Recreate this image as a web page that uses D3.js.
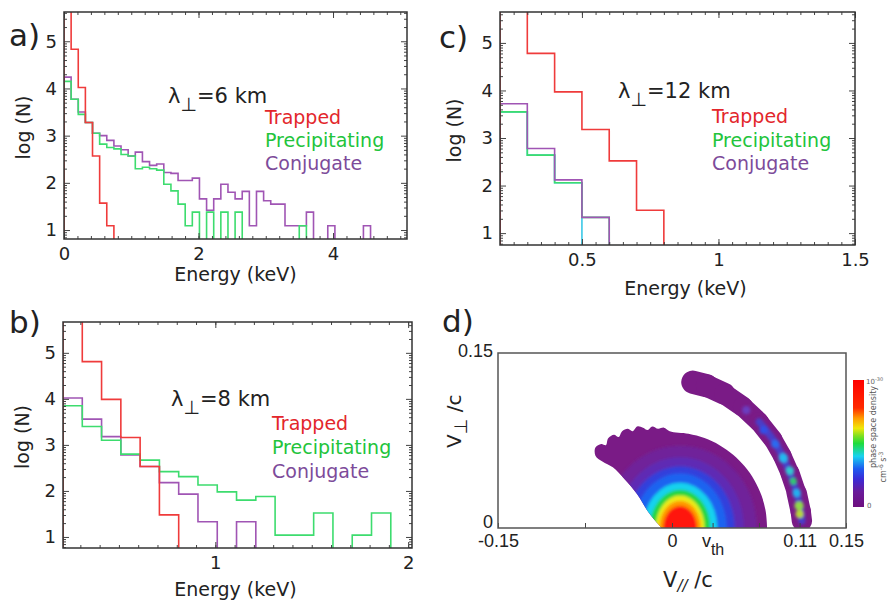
<!DOCTYPE html>
<html lang="en">
<head>
<meta charset="UTF-8">
<title>Energy spectra and phase space density</title>
<script src="https://d3js.org/d3.v7.min.js"></script>
<style>
  body { margin: 0; background: #fff; }
  svg { font-family: "DejaVu Sans", sans-serif; }
</style>
</head>
<body>
<script>
// ---------- data (log N per energy bin) ----------
// panel a, lambda_perp = 6 km : bins of 0.106 keV from 0
const startA = 0, binA = 0.106;
const trappedA = [5.8, 4.83, 4.02, 3.28, 2.57, 1.57, 1.09];
const precipA  = [4.15, 3.77, 3.45, 3.28, 3.05, 2.82, 2.75, 2.72, 2.6, 2.57, 2.3, 2.33, 2.3, 2.27,
                  1.97, 1.83, 1.55, 1.09, 1.38, 0, 1.38, 0, 1.38, 0, 1.38, 0, 0, 0, 0, 0, 0, 0, 0, 1.09, 0];
const conjA    = [4.24, 3.77, 3.5, 3.28, 3.05, 3.0, 2.9, 2.78, 2.7, 2.57, 2.65, 2.45, 2.37, 2.4, 2.22,
                  2.2, 2.05, 2.05, 2.1, 1.66, 1.42, 1.66, 1.97, 1.8, 1.66, 1.82, 1.09, 1.82, 1.62, 1.55,
                  1.55, 1.09, 1.09, 1.09, 1.38, 0, 0, 1.09, 0, 0, 0, 0, 1.09, 0];

// panel b, lambda_perp = 8 km : bins of 0.1 keV from 0.21
const startB = 0.21, binB = 0.1;
const trappedB = [5.8, 4.81, 3.99, 3.16, 2.53, 1.48];
const precipB  = [3.85, 3.4, 3.1, 2.8, 2.67, 2.42, 2.31, 2.13, 1.98, 1.8, 1.88, 1.04, 1.04, 1.52, 0, 1.04, 1.52, 0];
const conjB    = [4.02, 3.56, 3.18, 2.78, 2.53, 2.18, 1.93, 1.33, 0, 1.33, 0];

// panel c, lambda_perp = 12 km : bins of 0.1 keV from 0.2
const startC = 0.2, binC = 0.1;
const trappedC = [5.8, 4.78, 3.97, 3.18, 2.52, 1.48];
const cyanC    = [3.55, 2.64, 2.06, 0];
const precipC  = [3.55, 2.64, 2.06, 1.33, 0];
const conjC    = [3.72, 2.78, 2.12, 1.33, 0];

const legendNames = ["Trapped", "Precipitating", "Conjugate"];
const lambdaLabels = ["=6 km", "=8 km", "=12 km"];

// panel d: phase space density in (v_par/c, v_perp/c)
const vth = 0.035;
const dTickValues = [-0.15, -0.075, 0, vth, 0.075, 0.11, 0.15];
const dTickLabels = ["-0.15", "", "0", "vth", "", "0.11", "0.15"];
const blobOutline = [
  [-0.009, 0], [-0.020, 0.013], [-0.030, 0.029], [-0.041, 0.042], [-0.051, 0.052], [-0.060, 0.057],
  [-0.066, 0.062], [-0.066, 0.069], [-0.061, 0.072], [-0.057, 0.071], [-0.055, 0.077], [-0.050, 0.080],
  [-0.046, 0.078], [-0.043, 0.083], [-0.038, 0.085], [-0.034, 0.083], [-0.030, 0.087], [-0.025, 0.086],
  [-0.021, 0.084], [-0.017, 0.087], [-0.012, 0.085], [-0.007, 0.086], [-0.002, 0.083], [0.0142, 0.0808],
  [0.028, 0.0771], [0.041, 0.071], [0.0527, 0.0628], [0.0628, 0.0527], [0.071, 0.041], [0.0771, 0.028],
  [0.0808, 0.0142], [0.082, 0]
];
const coreCenter = [0.007, 0];
const coreRings = [   // rx, ry in v/c, colour
  [0.066, 0.071, "#70229a"], [0.055, 0.061, "#5f2cb4"], [0.047, 0.053, "#3340dc"],
  [0.040, 0.047, "#1e64f0"], [0.032, 0.039, "#14d2ee"], [0.026, 0.033, "#24d640"],
  [0.021, 0.028, "#ecec14"], [0.018, 0.0235, "#ff9800"], [0.0145, 0.019, "#ff1208"]
];
const bandLine = [[0.018, 0.125], [0.030, 0.122], [0.045, 0.115], [0.061, 0.104], [0.075, 0.091],
  [0.087, 0.076], [0.095, 0.062], [0.1017, 0.047], [0.1075, 0.030], [0.111, 0.014], [0.112, 0.006]];
const bandWidth = [0.02, 0.02, 0.018, 0.017, 0.017, 0.016, 0.016, 0.016, 0.017, 0.018, 0.017];
const bandSpots = [
  [0.064, 0.101, "#6a3cc0", 0.0035], [0.079, 0.084, "#3050e8", 0.0035], [0.089, 0.072, "#2a6af0", 0.0035],
  [0.096, 0.060, "#22b8f0", 0.004], [0.1017, 0.049, "#30c8d0", 0.0035], [0.1046, 0.040, "#30c870", 0.003],
  [0.1075, 0.030, "#20b0f0", 0.0035], [0.1095, 0.019, "#90d848", 0.004], [0.110, 0.012, "#b8d838", 0.0035]
];
const cmapStops = [[0, "#6e0f7e"], [0.12, "#6a1b9a"], [0.22, "#3b2bd6"], [0.3, "#1f5af0"], [0.4, "#19d2f0"],
  [0.5, "#1edc3c"], [0.56, "#7ee020"], [0.62, "#f0e80a"], [0.7, "#ff9a00"], [0.78, "#ff2a00"], [1, "#ff0000"]];

// ---------- drawing ----------
const col = { trapped: "#ef3b3b", precip: "#3ddc6e", conj: "#a055b4", cyan: "#3cc8e6" };
const txtCol = ["#e3262b", "#22c43b", "#7d4b9a"];
const svg = d3.select("body").append("svg").attr("width", 896).attr("height", 604);
const defs = svg.append("defs");

function logMinor(dom) {
  const out = [];
  for (let n = 0; n <= 6; n++) for (let k = 2; k <= 9; k++) {
    const v = n + Math.log10(k);
    if (v > dom[0] && v < dom[1]) out.push(v);
  }
  return out;
}
function range(a, b, s) { const o = []; for (let v = a; v <= b + 1e-9; v += s) o.push(+v.toFixed(4)); return o; }

function histPanel(c) {
  const x = d3.scaleLinear().domain(c.xDom).range([c.left, c.right]);
  const y = d3.scaleLinear().domain(c.yDom).range([c.bottom, c.top]);
  const g = svg.append("g");
  defs.append("clipPath").attr("id", c.id).append("rect")
    .attr("x", c.left).attr("y", c.top).attr("width", c.right - c.left).attr("height", c.bottom - c.top);
  const plot = g.append("g").attr("clip-path", `url(#${c.id})`);
  const base = c.yDom[0] - 1;
  const line = d3.line().x(d => x(d[0])).y(d => y(d[1]));
  c.series.forEach(s => {
    const pts = [[c.start, base]];
    s.vals.forEach((v, i) => {
      const a = c.start + i * c.width, b = a + c.width, vv = v > 0 ? v : base;
      pts.push([a, vv], [b, vv]);
    });
    pts.push([c.start + s.vals.length * c.width, base]);
    plot.append("path").datum(pts).attr("d", line)
      .attr("fill", "none").attr("stroke", s.color).attr("stroke-width", 1.6);
  });

  const axes = [
    [d3.axisBottom(x).tickValues(c.xMajor).tickSize(-6).tickPadding(8).tickFormat(c.xFmt), `translate(0,${c.bottom})`],
    [d3.axisBottom(x).tickValues(c.xMinor).tickSize(-3).tickFormat(""), `translate(0,${c.bottom})`],
    [d3.axisTop(x).tickValues(c.xMajor).tickSize(-6).tickFormat(""), `translate(0,${c.top})`],
    [d3.axisTop(x).tickValues(c.xMinor).tickSize(-3).tickFormat(""), `translate(0,${c.top})`],
    [d3.axisLeft(y).tickValues([1, 2, 3, 4, 5]).tickSize(-6).tickPadding(7).tickFormat(d3.format("d")), `translate(${c.left},0)`],
    [d3.axisLeft(y).tickValues(logMinor(c.yDom)).tickSize(-3).tickFormat(""), `translate(${c.left},0)`],
    [d3.axisRight(y).tickValues([1, 2, 3, 4, 5]).tickSize(-6).tickFormat(""), `translate(${c.right},0)`],
    [d3.axisRight(y).tickValues(logMinor(c.yDom)).tickSize(-3).tickFormat(""), `translate(${c.right},0)`]
  ];
  axes.forEach(([ax, tr]) => {
    const a = g.append("g").attr("transform", tr).call(ax);
    a.select(".domain").remove();
    a.selectAll("line").attr("stroke", "#444").attr("stroke-width", 1);
    a.selectAll("text").attr("font-size", 18).attr("fill", "#222").attr("font-family", "DejaVu Sans");
  });
  g.append("rect").attr("x", c.left).attr("y", c.top)
    .attr("width", c.right - c.left).attr("height", c.bottom - c.top)
    .attr("fill", "none").attr("stroke", "#333").attr("stroke-width", 1.5);

  // labels
  g.append("text").attr("transform", `translate(${c.left - c.yTitleDx},${(c.top + c.bottom) / 2 + 2}) rotate(-90)`)
    .attr("text-anchor", "middle").attr("font-size", 19).attr("fill", "#222").text("log (N)");
  g.append("text").attr("x", (c.left + c.right) / 2 + c.titleDx).attr("y", c.bottom + c.titleDy)
    .attr("text-anchor", "middle").attr("font-size", 19).attr("fill", "#222").text("Energy (keV)");
  g.append("text").attr("x", c.tag[1]).attr("y", c.tag[2]).attr("font-size", 31).attr("fill", "#222").text(c.tag[0]);

  const lt = g.append("text").attr("x", c.lam[0]).attr("y", c.lam[1]).attr("font-size", 21).attr("fill", "#222");
  lt.append("tspan").text("λ");
  lt.append("tspan").attr("dy", 8).attr("font-size", 19).text("⊥");
  lt.append("tspan").attr("dy", -8).text(c.lamText);
  legendNames.forEach((n, i) => {
    g.append("text").attr("x", c.leg[0]).attr("y", c.leg[1] + c.leg[2] * i)
      .attr("font-size", 19).attr("fill", txtCol[i]).text(n);
  });
}

histPanel({
  id: "clipA", left: 64, right: 407, top: 12, bottom: 239, xDom: [0, 5.1], yDom: [0.81, 5.62],
  start: startA, width: binA,
  series: [{ vals: conjA, color: col.conj }, { vals: precipA, color: col.precip }, { vals: trappedA, color: col.trapped }],
  xMajor: [0, 2, 4], xMinor: range(0, 5, 0.2), xFmt: d3.format("d"), yTitleDx: 34,
  titleDx: 0, titleDy: 42, tag: ["a)", 9, 46], lam: [168, 103], lamText: lambdaLabels[0], leg: [265, 124, 23]
});
histPanel({
  id: "clipB", left: 63, right: 412, top: 322, bottom: 548, xDom: [0.21, 2.02], yDom: [0.76, 5.67],
  start: startB, width: binB,
  series: [{ vals: conjB, color: col.conj }, { vals: precipB, color: col.precip }, { vals: trappedB, color: col.trapped }],
  xMajor: [1, 2], xMinor: range(0.3, 2, 0.1), xFmt: d3.format("d"), yTitleDx: 34,
  titleDx: -2, titleDy: 48, tag: ["b)", 9, 333], lam: [171, 406], lamText: lambdaLabels[1], leg: [272, 430, 24]
});
histPanel({
  id: "clipC", left: 500, right: 855, top: 12, bottom: 245, xDom: [0.2, 1.5], yDom: [0.75, 5.65],
  start: startC, width: binC,
  series: [{ vals: cyanC, color: col.cyan }, { vals: precipC, color: col.precip }, { vals: conjC, color: col.conj },
           { vals: trappedC, color: col.trapped }],
  xMajor: [0.5, 1, 1.5], xMinor: range(0.25, 1.5, 0.05), xFmt: d => d === 1 ? "1" : d3.format(".1f")(d), yTitleDx: 39,
  titleDx: 8, titleDy: 50, tag: ["c)", 439, 48], lam: [618, 98], lamText: lambdaLabels[2], leg: [712, 123, 23.5]
});

// ---------- panel d ----------
(function () {
  const L = 498, R = 846, T = 353, B = 528;
  const x = d3.scaleLinear().domain([-0.15, 0.15]).range([L, R]);
  const y = d3.scaleLinear().domain([0, 0.15]).range([B, T]);
  const k = x(1) - x(0);
  const g = svg.append("g");

  defs.append("clipPath").attr("id", "clipD").append("rect").attr("x", L).attr("y", T).attr("width", R - L).attr("height", B - T);
  const blurF = defs.append("filter").attr("id", "soft").attr("x", "-20%").attr("y", "-20%").attr("width", "140%").attr("height", "140%");
  blurF.append("feGaussianBlur").attr("stdDeviation", 1.8);
  const blurS = defs.append("filter").attr("id", "softS").attr("x", "-50%").attr("y", "-50%").attr("width", "200%").attr("height", "200%");
  blurS.append("feGaussianBlur").attr("stdDeviation", 1.4);

  const outline = d3.line().x(d => x(d[0])).y(d => y(d[1])).curve(d3.curveCatmullRom)(blobOutline) + "Z";
  defs.append("clipPath").attr("id", "clipBlob").append("path").attr("d", outline);

  const plot = g.append("g").attr("clip-path", "url(#clipD)");
  plot.append("path").attr("d", outline).attr("fill", "#7a1b86");
  const core = plot.append("g").attr("clip-path", "url(#clipBlob)").append("g").attr("filter", "url(#soft)");
  coreRings.forEach(r => {
    core.append("ellipse").attr("cx", x(coreCenter[0])).attr("cy", y(coreCenter[1]))
      .attr("rx", r[0] * k).attr("ry", r[1] * k).attr("fill", r[2]);
  });

  // arc-shaped band
  const band = plot.append("g");
  for (let i = 0; i < bandLine.length - 1; i++) {
    band.append("line")
      .attr("x1", x(bandLine[i][0])).attr("y1", y(bandLine[i][1]))
      .attr("x2", x(bandLine[i + 1][0])).attr("y2", y(bandLine[i + 1][1]))
      .attr("stroke", "#7a1b86").attr("stroke-linecap", "round")
      .attr("stroke-width", (bandWidth[i] + bandWidth[i + 1]) / 2 * k);
  }
  const inner = plot.append("g").attr("filter", "url(#softS)");
  inner.append("path").datum(bandLine.slice(4))
    .attr("d", d3.line().x(d => x(d[0])).y(d => y(d[1])).curve(d3.curveCatmullRom))
    .attr("fill", "none").attr("stroke", "#4a3cc8").attr("stroke-width", 7).attr("stroke-linecap", "round");
  bandSpots.forEach(s => {
    inner.append("circle").attr("cx", x(s[0])).attr("cy", y(s[1])).attr("r", s[3] * k).attr("fill", s[2]);
  });

  // axes
  const ax = g.append("g").attr("transform", `translate(0,${B})`)
    .call(d3.axisBottom(x).tickValues(dTickValues).tickSize(-5).tickPadding(6).tickFormat((d, i) => dTickLabels[i]));
  ax.select(".domain").remove();
  ax.selectAll("line").attr("stroke", "#444");
  ax.selectAll("text").attr("font-size", 18).attr("fill", "#222");
  ax.selectAll(".tick text").filter(d => d === vth).each(function () {
    const t = d3.select(this).text("");
    t.append("tspan").text("v");
    t.append("tspan").attr("dy", 8).attr("font-size", 16).text("th");
  });
  const ay = g.append("g").attr("transform", `translate(${L},0)`)
    .call(d3.axisLeft(y).tickValues([0, 0.15]).tickSize(0).tickPadding(5).tickFormat(d => d === 0 ? "0" : "0.15"));
  ay.select(".domain").remove();
  ay.selectAll("text").attr("font-size", 18).attr("fill", "#222").attr("dy", d => d === 0 ? "-0.05em" : "0.2em");
  g.append("rect").attr("x", L).attr("y", T).attr("width", R - L).attr("height", B - T)
    .attr("fill", "none").attr("stroke", "#555").attr("stroke-width", 1.5);

  g.append("text").attr("x", 442).attr("y", 332).attr("font-size", 31).attr("fill", "#222").text("d)");
  const yl = g.append("text").attr("transform", `translate(461,448) rotate(-90)`).attr("font-size", 20).attr("fill", "#222");
  yl.append("tspan").text("V");
  yl.append("tspan").attr("dy", 6).attr("font-size", 18).text("⊥");
  yl.append("tspan").attr("dy", -6).text(" /c");
  const xl = g.append("text").attr("x", 663).attr("y", 587).attr("font-size", 21).attr("fill", "#222");
  xl.append("tspan").text("V");
  xl.append("tspan").attr("dy", 4).attr("font-size", 15).attr("font-style", "italic").text("//");
  xl.append("tspan").attr("dy", -4).text(" /c");

  // colour bar
  const grad = defs.append("linearGradient").attr("id", "cmap").attr("x1", 0).attr("y1", 1).attr("x2", 0).attr("y2", 0);
  cmapStops.forEach(s => grad.append("stop").attr("offset", s[0]).attr("stop-color", s[1]));
  svg.append("rect").attr("x", 853).attr("y", 380).attr("width", 11).attr("height", 127).attr("fill", "url(#cmap)");
  const top = svg.append("text").attr("x", 866).attr("y", 384).attr("font-size", 7).attr("fill", "#666");
  top.append("tspan").text("10");
  top.append("tspan").attr("dy", -3).attr("font-size", 5).text("-30");
  svg.append("text").attr("x", 867).attr("y", 508).attr("font-size", 7).attr("fill", "#666").text("0");
  svg.append("text").attr("transform", "translate(876,427) rotate(-90)").attr("text-anchor", "middle")
    .attr("font-size", 8).attr("fill", "#555").text("phase space density");
  const u = svg.append("text").attr("transform", "translate(886,467) rotate(-90)").attr("text-anchor", "middle")
    .attr("font-size", 8).attr("fill", "#555");
  u.append("tspan").text("cm");
  u.append("tspan").attr("dy", -3).attr("font-size", 6).text("-6");
  u.append("tspan").attr("dy", 3).text(" s");
  u.append("tspan").attr("dy", -3).attr("font-size", 6).text("-3");
})();
</script>
</body>
</html>
